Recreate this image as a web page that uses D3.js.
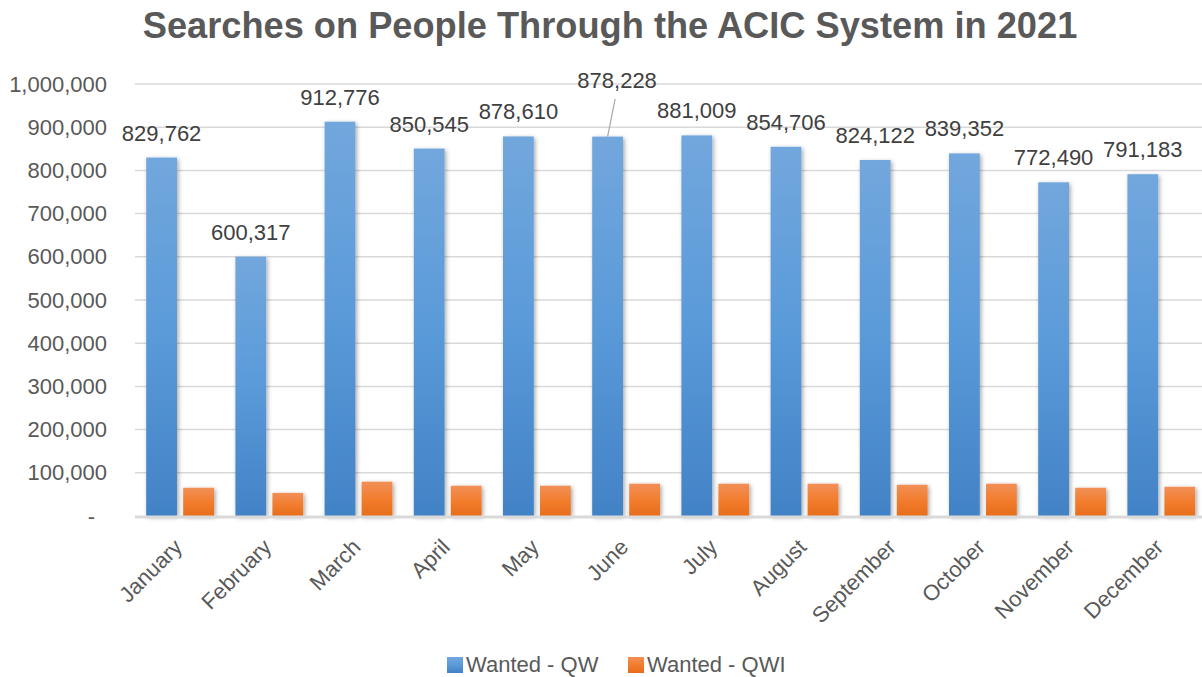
<!DOCTYPE html>
<html><head><meta charset="utf-8">
<script src="https://cdn.jsdelivr.net/npm/d3@7"></script>
<style>body{margin:0;background:#fff}svg{display:block}text{font-family:"Liberation Sans",Arial,sans-serif}</style>
</head><body>
<script>
const months = ["January","February","March","April","May","June","July","August","September","October","November","December"];
const wantedQW = [829762,600317,912776,850545,878610,878228,881009,854706,824122,839352,772490,791183];
const wantedQWI = [65400,53500,79500,70100,70100,74800,74800,74800,72400,74800,65400,67700];
const yTicks = [0,100000,200000,300000,400000,500000,600000,700000,800000,900000,1000000];
const seriesNames = ["Wanted - QW","Wanted - QWI"];

const W=1202,H=677;
const svg=d3.select("body").append("svg").attr("width",W).attr("height",H);
const defs=svg.append("defs");
const gb=defs.append("linearGradient").attr("id","gBlue").attr("x1",0).attr("y1",0).attr("x2",0).attr("y2",1);
gb.append("stop").attr("offset","0%").attr("stop-color","#72a7dd");
gb.append("stop").attr("offset","50%").attr("stop-color","#5a9ad9");
gb.append("stop").attr("offset","100%").attr("stop-color","#4282c6");
const go=defs.append("linearGradient").attr("id","gOrange").attr("x1",0).attr("y1",0).attr("x2",0).attr("y2",1);
go.append("stop").attr("offset","0%").attr("stop-color","#f19058");
go.append("stop").attr("offset","50%").attr("stop-color","#f27d2e");
go.append("stop").attr("offset","100%").attr("stop-color","#e76d1b");
const f=defs.append("filter").attr("id","shadow").attr("x","-30%").attr("y","-10%").attr("width","160%").attr("height","130%");
f.append("feDropShadow").attr("dx",1.5).attr("dy",1.5).attr("stdDeviation",2.2).attr("flood-color","#000").attr("flood-opacity",0.35);

const x=d3.scaleBand().domain(months).range([135.5,135.5+12*89.2]).paddingInner(0).paddingOuter(0);
const keys=["qw","qwi"];
const x1=d3.scaleBand().domain(keys).range([x.bandwidth()*0.12,x.bandwidth()*0.88]).paddingInner(0.168);
const y=d3.scaleLinear().domain([0,1000000]).range([516,84]);

// title
const title=svg.append("text").attr("x",610).attr("y",38).attr("text-anchor","middle")
  .attr("font-weight","bold").attr("fill","#595959").attr("font-size",34)
  .text("Searches on People Through the ACIC System in 2021");
const tl=title.node().getComputedTextLength();
title.attr("font-size",34*935/tl);

// gridlines
svg.append("g").selectAll("line").data(yTicks.filter(d=>d>0)).join("line")
  .attr("x1",135).attr("x2",W).attr("y1",d=>y(d)).attr("y2",d=>y(d))
  .attr("stroke","#d9d9d9").attr("stroke-width",1.5);

// y axis labels
const yAxis=d3.axisLeft(y).tickValues(yTicks).tickSize(0).tickPadding(0)
  .tickFormat(d=>d===0?"-":d3.format(",")(d));
const ya=svg.append("g").attr("transform","translate(107,0)").call(yAxis);
ya.select(".domain").remove();
ya.selectAll("text").attr("font-size",22).attr("fill","#595959").attr("font-family","Liberation Sans, Arial, sans-serif");
ya.selectAll(".tick").filter(d=>d===0).select("text").attr("dx",-12);

// bars
const g=svg.append("g");
g.selectAll("rect.qw").data(months).join("rect").attr("class","qw")
  .attr("x",(d)=>x(d)+x1("qw")).attr("width",x1.bandwidth())
  .attr("y",(d,i)=>y(wantedQW[i])).attr("height",(d,i)=>y(0)-y(wantedQW[i]))
  .attr("fill","url(#gBlue)").attr("filter","url(#shadow)");
g.selectAll("rect.qwi").data(months).join("rect").attr("class","qwi")
  .attr("x",(d)=>x(d)+x1("qwi")).attr("width",x1.bandwidth())
  .attr("y",(d,i)=>y(wantedQWI[i])).attr("height",(d,i)=>y(0)-y(wantedQWI[i]))
  .attr("fill","url(#gOrange)").attr("filter","url(#shadow)");

// baseline
svg.append("line").attr("x1",135).attr("x2",W).attr("y1",y(0)+1).attr("y2",y(0)+1)
  .attr("stroke","#d9d9d9").attr("stroke-width",3);

// value labels
const fmt=d3.format(",");
months.forEach((m,i)=>{
  const cx=x(m)+x1("qw")+x1.bandwidth()/2;
  const top=y(wantedQW[i]);
  if(m==="June"){
    svg.append("line").attr("x1",cx+7.5).attr("y1",99).attr("x2",cx).attr("y2",top)
      .attr("stroke","#a6a6a6").attr("stroke-width",1.2);
    svg.append("text").attr("x",cx+9.5).attr("y",88).attr("text-anchor","middle")
      .attr("font-size",22).attr("fill","#404040").text(fmt(wantedQW[i]));
  } else {
    svg.append("text").attr("x",cx).attr("y",top-17).attr("text-anchor","middle")
      .attr("font-size",22).attr("fill","#404040").text(fmt(wantedQW[i]));
  }
});

// x labels
svg.append("g").selectAll("text").data(months).join("text")
  .attr("transform",d=>`translate(${x(d)+x.bandwidth()/2-2},${543}) rotate(-45)`)
  .attr("text-anchor","end").attr("dy","0.35em")
  .attr("font-size",22).attr("fill","#595959").text(d=>d);

// legend
const leg=[{n:seriesNames[0],fill:"url(#gBlue)",x:447},{n:seriesNames[1],fill:"url(#gOrange)",x:628}];
const lg=svg.append("g").selectAll("g").data(leg).join("g").attr("transform",d=>`translate(${d.x},657)`);
lg.append("rect").attr("width",16).attr("height",16).attr("fill",d=>d.fill);
lg.append("text").attr("x",19).attr("y",15).attr("font-size",22).attr("fill","#595959").text(d=>d.n);
</script>
</body></html>
